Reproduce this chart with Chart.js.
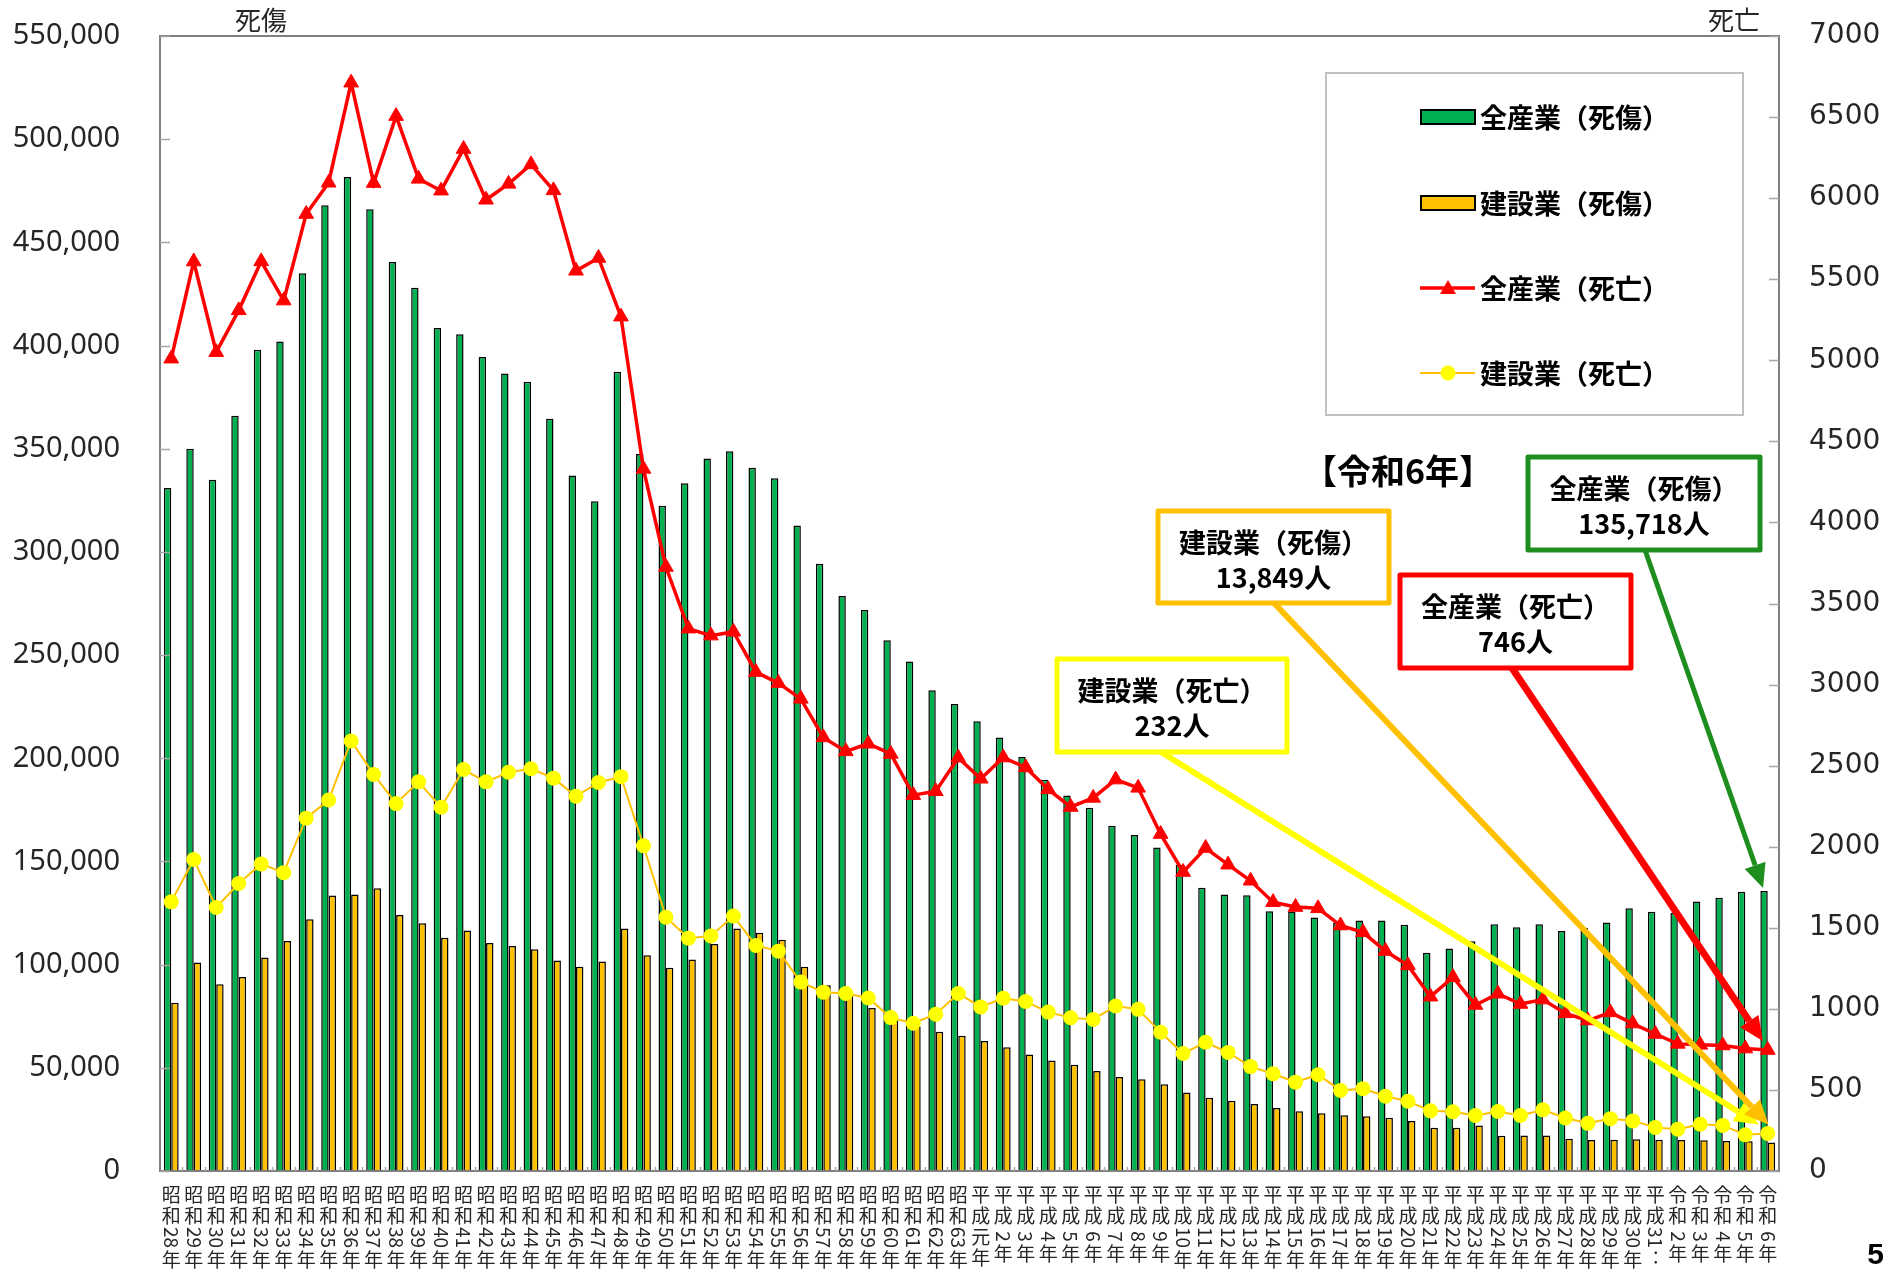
<!DOCTYPE html>
<html>
<head>
<meta charset="utf-8">
<script src="https://cdn.jsdelivr.net/npm/chart.js@4.4.1/dist/chart.umd.min.js"></script>
<style>
html,body{margin:0;padding:0;background:#fff;}
#wrap{width:1887px;height:1281px;position:relative;}
</style>
</head>
<body>
<div id="wrap"><canvas id="c"></canvas></div>
<script>
// ---------------- data ----------------
const categories = [
  '昭和28年','昭和29年','昭和30年','昭和31年','昭和32年','昭和33年','昭和34年','昭和35年','昭和36年','昭和37年',
  '昭和38年','昭和39年','昭和40年','昭和41年','昭和42年','昭和43年','昭和44年','昭和45年','昭和46年','昭和47年',
  '昭和48年','昭和49年','昭和50年','昭和51年','昭和52年','昭和53年','昭和54年','昭和55年','昭和56年','昭和57年',
  '昭和58年','昭和59年','昭和60年','昭和61年','昭和62年','昭和63年',
  '平成元年','平成 2年','平成 3年','平成 4年','平成 5年','平成 6年','平成 7年','平成 8年','平成 9年','平成10年',
  '平成11年','平成12年','平成13年','平成14年','平成15年','平成16年','平成17年','平成18年','平成19年','平成20年',
  '平成21年','平成22年','平成23年','平成24年','平成25年','平成26年','平成27年','平成28年','平成29年','平成30年',
  '平成31‥',
  '令和 2年','令和 3年','令和 4年','令和 5年','令和 6年'
];

// 全産業（死傷） – left axis
const allInjury = [
  331000, 350000, 335000, 366000, 398000, 402000, 435000, 468000, 481686, 466000,
  440500, 428000, 408500, 405500, 394500, 386500, 382500, 364500, 337000, 324500,
  387342, 347407, 322322, 333311, 345293, 348826, 340731, 335706, 312844, 294319,
  278623, 271884, 257240, 246891, 232953, 226318,
  217964, 210108, 200633, 189589, 181900, 176047, 167316, 162862, 156726, 148248,
  137316, 133948, 133598, 125918, 125750, 122804, 120354, 121378, 121356, 119291,
  105718, 107759, 111349, 119576, 118157, 119535, 116311, 117910, 120460, 127329,
  125611,
  125115, 130586, 132355, 135371, 135718
];

// 建設業（死傷） – left axis
const constInjury = [
  81500, 101000, 90500, 94000, 103500, 111500, 122000, 133500, 134000, 137000,
  124000, 120000, 113000, 116500, 110500, 109000, 107500, 102000, 99000, 101500,
  117500, 104500, 98500, 102500, 110000, 117500, 115500, 112000, 99000, 90000,
  85000, 79000, 74000, 70000, 67500, 65500,
  63000, 60000, 56500, 53500, 51500, 48500, 45500, 44500, 42000, 38000,
  35500, 34000, 32500, 30500, 29000, 28000, 27000, 26500, 25800, 24200,
  21000, 21000, 22000, 17073, 17189, 17184, 15584, 15058, 15129, 15374,
  15183,
  14977, 14926, 14539, 14414, 13849
];

// 全産業（死亡） – right axis
const allDeath = [
  5010, 5609, 5050, 5308, 5610, 5368, 5902, 6095, 6712, 6093,
  6506, 6119, 6046, 6303, 5990, 6088, 6208, 6048, 5552, 5631,
  5269, 4330, 3725, 3345, 3302, 3326, 3077, 3009, 2912, 2674,
  2588, 2635, 2572, 2318, 2342, 2549,
  2419, 2550, 2489, 2354, 2245, 2301, 2414, 2363, 2078, 1844,
  1992, 1889, 1790, 1658, 1628, 1620, 1514, 1472, 1357, 1268,
  1075, 1195, 1024, 1093, 1030, 1057, 972, 928, 978, 909,
  845,
  784, 778, 774, 755, 746
];

// 建設業（死亡） – right axis
const constDeath = [
  1660, 1921, 1625, 1773, 1894, 1840, 2176, 2288, 2652, 2446,
  2266, 2400, 2243, 2476, 2400, 2459, 2481, 2423, 2311, 2396,
  2432, 2006, 1565, 1436, 1450, 1572, 1391, 1356, 1165, 1103,
  1095, 1067, 946, 911, 967, 1095,
  1012, 1065, 1045, 980, 945, 935, 1018, 997, 856, 725,
  794, 731, 644, 600, 548, 594, 497, 508, 461, 430,
  371, 365, 342, 367, 342, 377, 327, 294, 323, 309,
  269,
  258, 288, 281, 223, 232
];

const leftTicks  = [0, 50000, 100000, 150000, 200000, 250000, 300000, 350000, 400000, 450000, 500000, 550000];
const rightTicks = [0, 500, 1000, 1500, 2000, 2500, 3000, 3500, 4000, 4500, 5000, 5500, 6000, 6500, 7000];

const seriesNames = ['全産業（死亡）', '建設業（死亡）', '全産業（死傷）', '建設業（死傷）'];
const axisTitleLeft = '死傷';
const axisTitleRight = '死亡';
const highlightTitle = '【令和6年】';
const pageNumber = '5';

// ---------------- styling ----------------
const JP = "'Noto Sans CJK JP', 'Noto Sans', sans-serif";
Chart.defaults.font.family = JP;

const COL_GREEN = '#00B050';
const COL_ORANGE = '#FFC000';
const COL_RED = '#FF0000';
const COL_YELLOW = '#FFFF00';

function drawArrow(ctx, x1, y1, x2, y2, color, w, headLen, headW) {
  const ang = Math.atan2(y2 - y1, x2 - x1);
  const bx = x2 - Math.cos(ang) * headLen, by = y2 - Math.sin(ang) * headLen;
  ctx.save();
  ctx.strokeStyle = color; ctx.lineWidth = w; ctx.lineCap = 'butt';
  ctx.beginPath(); ctx.moveTo(x1, y1); ctx.lineTo(bx, by); ctx.stroke();
  ctx.fillStyle = color;
  ctx.beginPath();
  ctx.moveTo(x2, y2);
  ctx.lineTo(bx + Math.sin(ang) * headW / 2, by - Math.cos(ang) * headW / 2);
  ctx.lineTo(bx - Math.sin(ang) * headW / 2, by + Math.cos(ang) * headW / 2);
  ctx.closePath(); ctx.fill();
  ctx.restore();
}

// callout layout (positions only; texts and values come from the datasets)
const callouts = [
  {ds: 1, box: [1057, 659, 1287, 752], color: '#FFFF00', from: [1161, 752], dx: -9, dy: -9, lw: 6},
  {ds: 3, box: [1158, 511, 1389, 603], color: '#FFC000', from: [1274, 603], dx: -3, dy: -18, lw: 6},
  {ds: 0, box: [1400, 575, 1631, 668], color: '#FF0000', from: [1512, 668], dx: -5, dy: -9, lw: 7},
  {ds: 2, box: [1528, 457, 1760, 550], color: '#1E8E1E', from: [1645, 550], dx: -1, dy: -3, lw: 5}
];

const decorPlugin = {
  id: 'decor',
  afterDatasetsDraw(chart) {
    const ctx = chart.ctx;
    const ca = chart.chartArea;
    const ys = chart.scales.y, y1s = chart.scales.y1, xs = chart.scales.x;

    // plot frame
    ctx.save();
    ctx.strokeStyle = '#7F7F7F'; ctx.lineWidth = 2;
    ctx.strokeRect(ca.left, ca.top, ca.right - ca.left, ca.bottom - ca.top);
    // inner tick marks
    ctx.strokeStyle = '#A6A6A6'; ctx.lineWidth = 1.5;
    leftTicks.forEach(v => {
      const y = Math.round(ys.getPixelForValue(v)) + 0.5;
      ctx.beginPath(); ctx.moveTo(ca.left, y); ctx.lineTo(ca.left + 10, y); ctx.stroke();
    });
    rightTicks.forEach(v => {
      const y = Math.round(y1s.getPixelForValue(v)) + 0.5;
      ctx.beginPath(); ctx.moveTo(ca.right - 10, y); ctx.lineTo(ca.right, y); ctx.stroke();
    });
    const n = categories.length, cw = (ca.right - ca.left) / n;
    for (let i = 1; i < n; i++) {
      const x = Math.round(ca.left + i * cw) + 0.5;
      ctx.beginPath(); ctx.moveTo(x, ca.bottom); ctx.lineTo(x, ca.bottom - 4); ctx.stroke();
    }
    ctx.restore();

    // vertical x labels
    ctx.save();
    ctx.fillStyle = '#262626';
    ctx.font = `19px ${JP}`;
    categories.forEach((lab, i) => {
      const x = xs.getPixelForValue(i);
      let y = ca.bottom + 14;
      const runs = lab.match(/[0-9 ‥]+|[^0-9 ‥]/g) || [];
      runs.forEach(r => {
        if (/^[0-9 ‥]+$/.test(r)) {
          const w = ctx.measureText(r).width;
          ctx.save();
          ctx.translate(x, y);
          ctx.rotate(Math.PI / 2);
          ctx.textAlign = 'left'; ctx.textBaseline = 'middle';
          ctx.fillText(r, 0, 0);
          ctx.restore();
          y += w + 2;
        } else {
          ctx.textAlign = 'center'; ctx.textBaseline = 'top';
          ctx.fillText(r, x, y);
          y += 21;
        }
      });
    });
    ctx.restore();

    // axis titles
    ctx.save();
    ctx.fillStyle = '#262626';
    ctx.font = `26px ${JP}`;
    ctx.textAlign = 'center'; ctx.textBaseline = 'middle';
    ctx.fillText(axisTitleLeft, 261, 20);
    ctx.fillText(axisTitleRight, 1734, 20);
    ctx.restore();

    // legend box
    ctx.save();
    ctx.fillStyle = '#FFFFFF';
    ctx.fillRect(1326, 73, 417, 342);
    ctx.strokeStyle = '#BFBFBF'; ctx.lineWidth = 2;
    ctx.strokeRect(1326, 73, 417, 342);
    const legendOrder = [2, 3, 0, 1];
    const rowsY = [117, 203, 288, 373];
    legendOrder.forEach((di, k) => {
      const ds = chart.data.datasets[di];
      const y = rowsY[k];
      if (ds.type === 'line') {
        ctx.strokeStyle = ds.borderColor; ctx.lineWidth = ds.borderWidth;
        ctx.beginPath(); ctx.moveTo(1420, y); ctx.lineTo(1475, y); ctx.stroke();
        ctx.fillStyle = ds.pointBackgroundColor;
        if (ds.pointStyle === 'triangle') {
          ctx.beginPath();
          ctx.moveTo(1448, y - 8); ctx.lineTo(1456, y + 6); ctx.lineTo(1440, y + 6); ctx.closePath(); ctx.fill();
        } else {
          ctx.beginPath(); ctx.arc(1448, y, 7.5, 0, Math.PI * 2); ctx.fill();
        }
      } else {
        ctx.fillStyle = ds.backgroundColor;
        ctx.fillRect(1421, y - 7, 54, 14);
        ctx.strokeStyle = '#000'; ctx.lineWidth = 2;
        ctx.strokeRect(1421, y - 7, 54, 14);
      }
      ctx.fillStyle = '#000';
      ctx.font = `bold 27px ${JP}`;
      ctx.textAlign = 'left'; ctx.textBaseline = 'middle';
      ctx.fillText(ds.label, 1480, y + 1);
    });
    ctx.restore();

    // highlight title
    ctx.save();
    ctx.fillStyle = '#000';
    ctx.font = `bold 34px ${JP}`;
    ctx.textAlign = 'center'; ctx.textBaseline = 'middle';
    ctx.fillText(highlightTitle, 1398, 471);
    ctx.restore();

    // callouts
    const last = categories.length - 1;
    callouts.forEach(c => {
      const ds = chart.data.datasets[c.ds];
      const el = chart.getDatasetMeta(c.ds).data[last];
      const [x1, y1, x2, y2] = c.box;
      ctx.save();
      ctx.fillStyle = '#FFFFFF';
      ctx.fillRect(x1, y1, x2 - x1, y2 - y1);
      ctx.strokeStyle = c.color; ctx.lineWidth = 5; ctx.lineJoin = 'round';
      ctx.strokeRect(x1, y1, x2 - x1, y2 - y1);
      ctx.fillStyle = '#000';
      ctx.font = `bold 27px ${JP}`;
      ctx.textAlign = 'center'; ctx.textBaseline = 'middle';
      const cx = (x1 + x2) / 2;
      ctx.fillText(ds.label, cx, y1 + 32);
      ctx.fillText(ds.data[last].toLocaleString('en-US') + '人', cx, y1 + 67);
      ctx.restore();
      drawArrow(ctx, c.from[0], c.from[1], el.x + c.dx, el.y + c.dy, c.color, c.lw, 24, 22);
    });

    // page number
    ctx.save();
    ctx.fillStyle = '#000';
    ctx.font = "bold 30px 'Liberation Sans', sans-serif";
    ctx.textAlign = 'right'; ctx.textBaseline = 'middle';
    ctx.fillText(pageNumber, 1884, 1256);
    ctx.restore();
  }
};

function noPad(s) { s.paddingTop = 0; s.paddingBottom = 0; s.paddingLeft = 0; s.paddingRight = 0; }

new Chart(document.getElementById('c'), {
  type: 'bar',
  data: {
    labels: categories,
    datasets: [
      {
        type: 'line', label: seriesNames[0], data: allDeath, yAxisID: 'y1', order: 1,
        borderColor: COL_RED, borderWidth: 3.5, tension: 0,
        pointStyle: 'triangle', pointRadius: 8.5, pointBorderWidth: 1,
        pointBackgroundColor: COL_RED, pointBorderColor: COL_RED
      },
      {
        type: 'line', label: seriesNames[1], data: constDeath, yAxisID: 'y1', order: 2,
        borderColor: COL_ORANGE, borderWidth: 2, tension: 0,
        pointStyle: 'circle', pointRadius: 7.5, pointBorderWidth: 0,
        pointBackgroundColor: COL_YELLOW, pointBorderColor: COL_YELLOW
      },
      {
        type: 'bar', label: seriesNames[2], data: allInjury, yAxisID: 'y', order: 3,
        backgroundColor: COL_GREEN, borderColor: '#000', borderWidth: 1.5,
        categoryPercentage: 0.66, barPercentage: 1.0
      },
      {
        type: 'bar', label: seriesNames[3], data: constInjury, yAxisID: 'y', order: 4,
        backgroundColor: COL_ORANGE, borderColor: '#000', borderWidth: 1.5,
        categoryPercentage: 0.66, barPercentage: 1.0
      }
    ]
  },
  options: {
    responsive: true,
    maintainAspectRatio: false,
    animation: false,
    devicePixelRatio: 1,
    layout: {padding: {top: 36, left: 0, right: 0, bottom: 0}},
    plugins: {legend: {display: false}, tooltip: {enabled: false}},
    scales: {
      x: {
        type: 'category',
        grid: {display: false},
        border: {display: false},
        ticks: {display: false},
        afterFit: s => { s.height = 110; noPad(s); }
      },
      y: {
        position: 'left', min: 0, max: 550000,
        grid: {display: false},
        border: {display: false},
        afterBuildTicks: s => { s.ticks = leftTicks.map(v => ({value: v})); },
        ticks: {
          padding: 32, color: '#262626', autoSkip: false,
          font: {family: "'Noto Sans', sans-serif", size: 29},
          callback: v => Number(v).toLocaleString('en-US')
        },
        afterFit: s => { s.width = 160; noPad(s); }
      },
      y1: {
        position: 'right', min: 0, max: 7000,
        grid: {display: false},
        border: {display: false},
        afterBuildTicks: s => { s.ticks = rightTicks.map(v => ({value: v})); },
        ticks: {
          padding: 22, color: '#262626', autoSkip: false,
          font: {family: "'DejaVu Sans', sans-serif", size: 28},
          callback: v => String(v)
        },
        afterFit: s => { s.width = 108; noPad(s); }
      }
    }
  },
  plugins: [decorPlugin]
});
</script>
</body>
</html>
